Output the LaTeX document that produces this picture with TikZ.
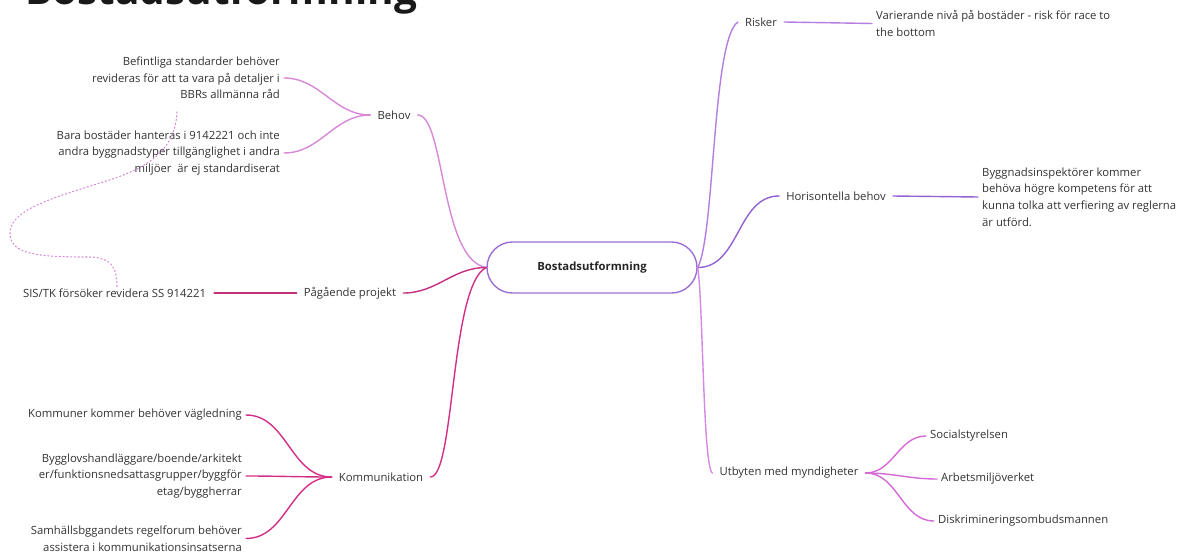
\documentclass[tikz,border=0pt]{standalone}
\usepackage{fontspec}
\setmainfont{Open Sans}
\usetikzlibrary{calc}

\definecolor{txt}{HTML}{333333}
\definecolor{behovC}{HTML}{D788D9}
\definecolor{pagC}{HTML}{C4307F}
\definecolor{kommC}{HTML}{D42F86}
\definecolor{riskC}{HTML}{B67EDF}
\definecolor{horC}{HTML}{9562D4}
\definecolor{utbC}{HTML}{D48AE2}
\definecolor{utbKids}{HTML}{D56AD6}
\definecolor{rootC}{HTML}{9A70D3}

\tikzset{
  leaf/.style={inner xsep=4pt, inner ysep=1pt, text=txt,
    font=\fontsize{11.3}{16.6}\selectfont},
  branch/.style={inner xsep=7pt, inner ysep=1pt, text=txt,
    font=\fontsize{11.3}{16.6}\selectfont},
  conn/.style={line width=1.4pt, line cap=round},
}

\begin{document}
\begin{tikzpicture}[x=1pt, y=-1pt]
\useasboundingbox (0,0) rectangle (1187,557);
\fill[white] (0,0) rectangle (1187,557);

% title, partly cut by the top edge
\node[anchor=base west, inner sep=0, text=black!90,
  font=\fontsize{40.5}{46}\bfseries\selectfont] (title) at (25,4) {Bostadsutformning};

% central topic
\node[draw=rootC, line width=1.4pt, rounded corners=25.5pt,
  minimum width=210pt, minimum height=51pt, inner sep=0,
  font=\fontsize{11.3}{13}\bfseries\selectfont, text=black!85] (c) at (592,267.5) {Bostadsutformning};

% ---- left side ----
\node[branch] (behov) at (394,115) {Behov};
\node[leaf, anchor=east, align=right] (b1) at (284,78)
  {Befintliga standarder behöver\\revideras för att ta vara på detaljer i\\BBRs allmänna råd};
\node[leaf, anchor=east, align=right] (b2) at (284,153)
  {Bara bostäder hanteras i 9142221 och inte\\andra byggnadstyper tillgänglighet i andra\\miljöer\ \ är ej standardiserat};

\node[branch] (pag) at (350,293) {Pågående projekt};
\node[leaf, inner xsep=8pt] (sis) at (114.5,293) {SIS/TK försöker revidera SS 914221};

\node[branch] (komm) at (381,477) {Kommunikation};
\node[leaf, anchor=east, align=right] (k1) at (246,415)
  {Kommuner kommer behöver vägledning};
\node[leaf, anchor=east, align=right] (k2) at (246,476)
  {Bygglovshandläggare/boende/arkitekt\\er/funktionsnedsattasgrupper/byggför\\etag/byggherrar};
\node[leaf, anchor=east, align=right] (k3) at (246,538.5)
  {Samhällsbggandets regelforum behöver\\assistera i kommunikationsinsatserna};

% ---- right side ----
\node[branch] (risk) at (761,22) {Risker};
\node[leaf, anchor=west, align=left] (r1) at (872,23.5)
  {Varierande nivå på bostäder - risk för race to\\the bottom};

\node[branch] (hor) at (836,196) {Horisontella behov};
\node[leaf, anchor=west, align=left] (h1) at (978,197)
  {Byggnadsinspektörer kommer\\behöva högre kompetens för att\\kunna tolka att verfiering av reglerna\\är utförd.};

\node[branch] (utb) at (789,473) {Utbyten med myndigheter};
\node[leaf, anchor=west] (s1) at (926,436) {Socialstyrelsen};
\node[leaf, anchor=west] (a1) at (937,479) {Arbetsmiljöverket};
\node[leaf, anchor=west] (d1) at (934,521) {Diskrimineringsombudsmannen};

% ---- connectors, left ----
\draw[conn, behovC] (behov.east) .. controls (445,115) and (440,260) .. (c.west);
\draw[conn, behovC] (b1.east) to[out=0, in=180] (behov.west);
\draw[conn, behovC] (b2.east) to[out=0, in=180] (behov.west);

\draw[conn, pagC] (pag.east) to[out=0, in=180] (c.west);
\draw[conn, pagC] (sis.east) -- (pag.west);

\draw[conn, kommC] (komm.east) .. controls (455,477) and (450,285) .. (c.west);
\draw[conn, kommC] (k1.east) to[out=0, in=180] (komm.west);
\draw[conn, kommC] (k2.east) to[out=0, in=180] (komm.west);
\draw[conn, kommC] (k3.east) to[out=0, in=180] (komm.west);

% dotted link from the second Behov note down to the SIS/TK project
\coordinate (dotA) at (177,112);
\draw[behovC, line width=1.1pt, line cap=round, dash pattern=on 1.2pt off 2.6pt]
  (dotA) .. controls (175,150) and (150,168) .. (100,183)
  .. controls (45,200) and (8,212) .. (10,235)
  .. controls (12,255) and (40,257) .. (90,257)
  .. controls (110,258) and (117,265) .. (sis.north -| 117,0);

% ---- connectors, right ----
\draw[conn, riskC] (c.east) .. controls (715,235) and (712,40) .. (risk.west);
\draw[conn, riskC] (risk.east) -- (r1.west);

\draw[conn, horC] (c.east) to[out=0, in=180] (hor.west);
\draw[conn, horC] (hor.east) -- (h1.west);

\draw[conn, utbC] (c.east) .. controls (703,300) and (703,468) .. (utb.west);
\draw[conn, utbKids] (utb.east) to[out=0, in=180] (s1.west);
\draw[conn, utbKids] (utb.east) to[out=0, in=180] (a1.west);
\draw[conn, utbKids] (utb.east) to[out=0, in=180] (d1.west);
\end{tikzpicture}
\end{document}
